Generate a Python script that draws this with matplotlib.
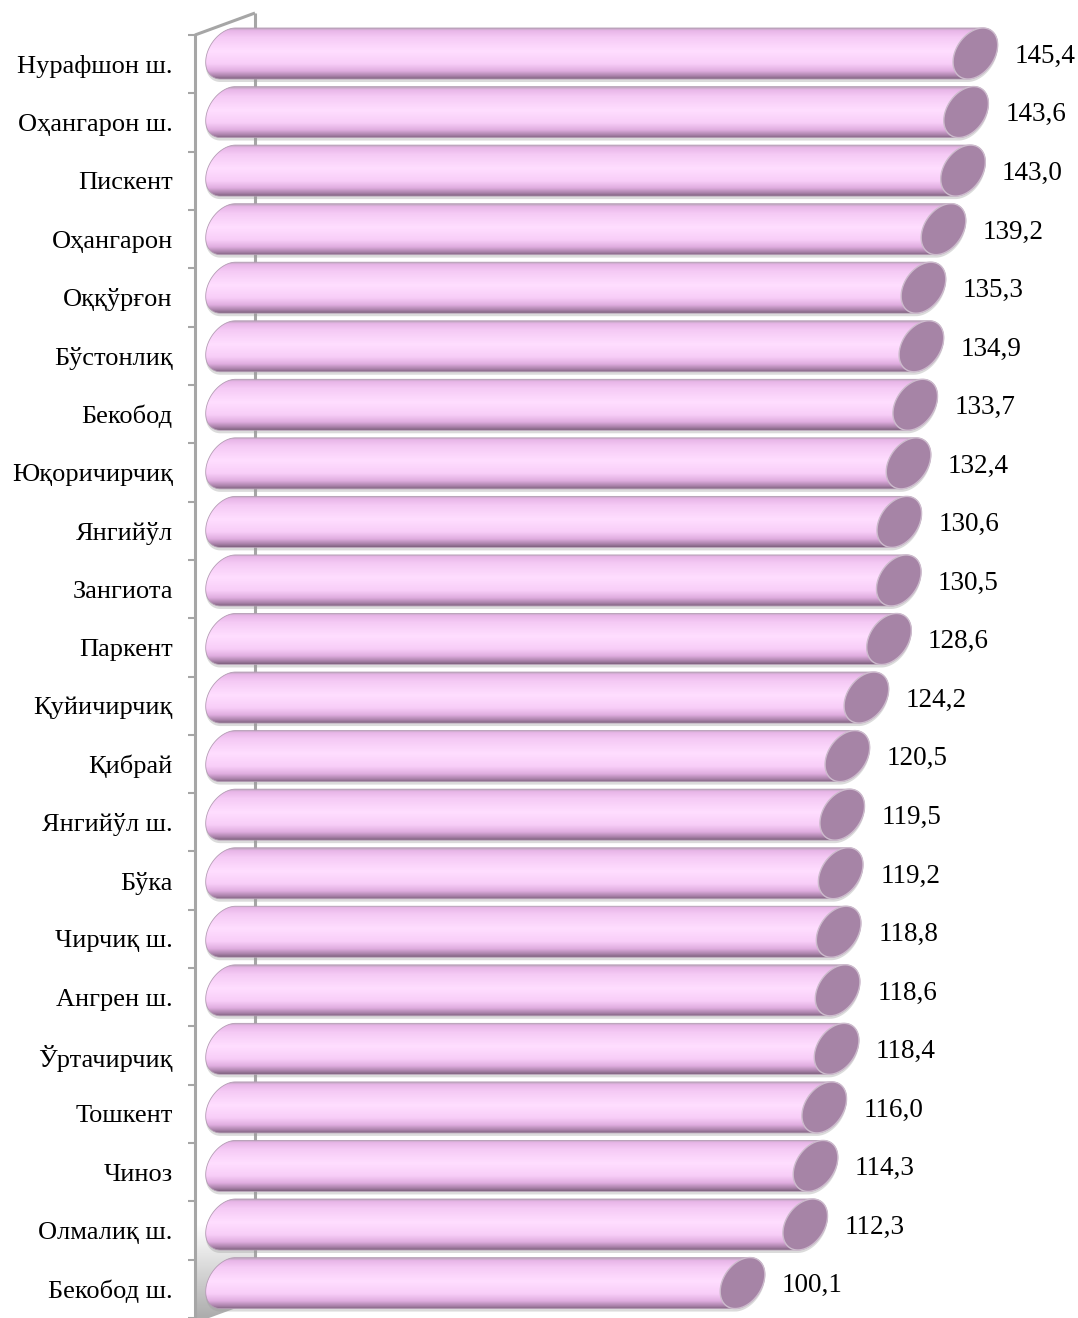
import numpy as np
import matplotlib
matplotlib.use('Agg')
import matplotlib.pyplot as plt
from matplotlib.path import Path
from matplotlib.patches import PathPatch, Polygon
from matplotlib.colors import LinearSegmentedColormap

# ---------------- data ----------------
categories = [
    "Нурафшон ш.", "Оҳангарон ш.", "Пискент", "Оҳангарон", "Оққўрғон",
    "Бўстонлиқ", "Бекобод", "Юқоричирчиқ", "Янгийўл", "Зангиота",
    "Паркент", "Қуйичирчиқ", "Қибрай", "Янгийўл ш.", "Бўка",
    "Чирчиқ ш.", "Ангрен ш.", "Ўртачирчиқ", "Тошкент", "Чиноз",
    "Олмалиқ ш.", "Бекобод ш.",
]
values = [
    145.4, 143.6, 143.0, 139.2, 135.3,
    134.9, 133.7, 132.4, 130.6, 130.5,
    128.6, 124.2, 120.5, 119.5, 119.2,
    118.8, 118.6, 118.4, 116.0, 114.3,
    112.3, 100.1,
]
value_labels = [f"{v:.1f}".replace(".", ",") for v in values]

# ---------------- layout (pixels) ----------------
W, H = 1078, 1318
PX_PER_UNIT = 5.14      # horizontal scale
ORIGIN_X = 228          # pixel x of value 0 (bar depth plane)
ROW = 58.55             # pixel height of one category
FIRST_ROW_Y = 53.5      # pixel y of first bar centre
FRONT_X = 195           # front axis line
DEPTH = (60, -22)       # front -> back wall offset in pixels
BAR_H = 51              # bar thickness in px
CAP_A, CAP_B, CAP_SH = 21.0, BAR_H / 2, 7.5

FONT = ["Liberation Serif", "DejaVu Serif"]

fig = plt.figure(figsize=(W / 100, H / 100), dpi=100)
ax = fig.add_axes([0, 0, 1, 1])
ax.set_xlim(-ORIGIN_X / PX_PER_UNIT, (W - ORIGIN_X) / PX_PER_UNIT)
ax.set_ylim((H - FIRST_ROW_Y) / ROW, -FIRST_ROW_Y / ROW)
ax.axis("off")


def px_x(px):
    return (px - ORIGIN_X) / PX_PER_UNIT


def px_y(py):
    return (py - FIRST_ROW_Y) / ROW


def ell(cx, cy, t):
    x = cx + (CAP_A * np.cos(t) + CAP_SH * np.sin(t)) / PX_PER_UNIT
    y = cy - (CAP_B * np.sin(t)) / ROW
    return np.column_stack([x, y])


# ---------------- walls ----------------
front_top, front_bot = 35, 35 + 22 * ROW
back_x = FRONT_X + DEPTH[0]
wall = [(px_x(FRONT_X), px_y(front_top)), (px_x(back_x), px_y(front_top + DEPTH[1])),
        (px_x(back_x), px_y(front_bot + DEPTH[1])), (px_x(FRONT_X), px_y(front_bot))]
wall_patch = Polygon(wall, closed=True, facecolor="none", edgecolor="none")
ax.add_patch(wall_patch)
wall_grad = np.zeros((100, 1, 4))
ramp = np.clip((np.linspace(0, 1, 100) - 0.93) / 0.07, 0, 1)
wall_grad[..., 0] = 0.62
wall_grad[..., 1] = 0.62
wall_grad[..., 2] = 0.62
wall_grad[:, 0, 3] = ramp * 0.85
img = ax.imshow(wall_grad, extent=(px_x(FRONT_X), px_x(back_x), px_y(front_bot), px_y(front_top + DEPTH[1])),
                origin="upper", aspect="auto", zorder=0.5, interpolation="bilinear")
img.set_clip_path(wall_patch)

ax.plot([px_x(back_x), px_x(back_x)], [px_y(front_top + DEPTH[1]), px_y(front_bot + DEPTH[1])],
        color="#A6A6A6", lw=2.2, zorder=1, solid_capstyle="butt")
ax.plot([px_x(FRONT_X), px_x(back_x)], [px_y(front_top), px_y(front_top + DEPTH[1])],
        color="#A6A6A6", lw=2.2, zorder=1, solid_capstyle="butt")

# ---------------- bars ----------------
cmap = LinearSegmentedColormap.from_list("cyl", [
    (0.00, "#BCA6BC"), (0.05, "#E8B6E8"), (0.18, "#F5CAF5"), (0.45, "#FFDEFF"),
    (0.70, "#F8CEF8"), (0.84, "#E0AEE0"), (0.94, "#AA82AA"), (1.00, "#7E627E"),
])
grad = cmap(np.linspace(0, 1, 256))[:, None, :]

t_left = np.linspace(np.pi / 2, 3 * np.pi / 2, 60)
t_right = np.linspace(-np.pi / 2, np.pi / 2, 60)
t_full = np.linspace(0, 2 * np.pi, 120)

for i, (v, lab) in enumerate(zip(values, value_labels)):
    pts = np.vstack([ell(0, i, t_left), ell(v, i, t_right)])
    path = Path(np.vstack([pts, pts[:1]]), closed=True)
    # soft shadow
    sh = pts.copy()
    sh[:, 1] += 3 / ROW
    ax.add_patch(PathPatch(Path(np.vstack([sh, sh[:1]])), facecolor="#9A9A9A",
                           edgecolor="none", alpha=0.35, zorder=2))
    body = PathPatch(path, facecolor="none", edgecolor="none", zorder=3)
    ax.add_patch(body)
    half = BAR_H / 2 / ROW
    x_lo = px_x(ORIGIN_X - 30)
    x_hi = v + 30 / PX_PER_UNIT
    im = ax.imshow(grad, extent=(x_lo, x_hi, i + half, i - half), origin="upper",
                   aspect="auto", zorder=3, interpolation="bilinear")
    im.set_clip_path(body)
    ax.add_patch(PathPatch(path, facecolor="none", edgecolor="#B49CB4", lw=0.6, zorder=3.5))
    cap = Path(ell(v, i, t_full), closed=True)
    ax.add_patch(PathPatch(cap, facecolor="#A684A6", edgecolor="#CDBBCD", lw=1.0, zorder=4))
    ax.annotate(lab, xy=(v, i), xytext=(50, -2), textcoords="offset points",
                ha="center", va="center", fontsize=19.5, family=FONT, color="#000000")

# ---------------- front category axis ----------------
axf = fig.add_axes([FRONT_X / W, 0, 0.0005, (H - front_top) / H])
axf.set_ylim((H - front_top) / ROW - 0.5, -0.5)
axf.set_xlim(0, 1)
axf.patch.set_visible(False)
for s in ["right", "top", "bottom"]:
    axf.spines[s].set_visible(False)
axf.spines["left"].set_color("#A6A6A6")
axf.spines["left"].set_linewidth(2.2)
axf.set_xticks([])
axf.set_yticks(range(len(categories)))
axf.set_yticklabels(categories, fontsize=19, family=FONT)
axf.set_yticks(np.arange(-0.5, len(categories), 1), minor=True)
axf.tick_params(axis="y", which="major", length=0, pad=16)
axf.tick_params(axis="y", which="minor", length=5, width=1.5, color="#A6A6A6", direction="out")

fig.savefig("out.png", dpi=100)
